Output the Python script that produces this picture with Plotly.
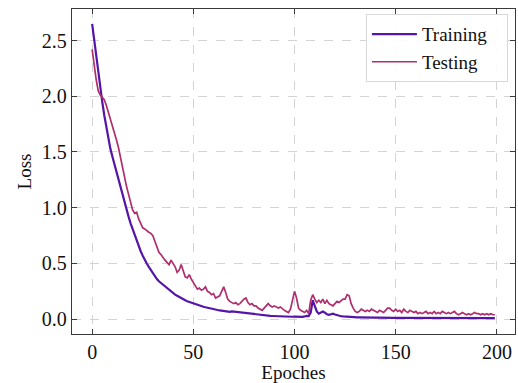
import plotly.graph_objects as go

epochs = list(range(200))

training_loss = [
    2.65, 2.50, 2.36, 2.22, 2.08, 1.95, 1.83, 1.72, 1.62, 1.53,
    1.46, 1.39, 1.32, 1.25, 1.18, 1.11, 1.05, 0.99, 0.92, 0.86,
    0.81, 0.75, 0.70, 0.65, 0.61, 0.57, 0.53, 0.50, 0.47, 0.44,
    0.41, 0.385, 0.36, 0.34, 0.325, 0.31, 0.29, 0.275, 0.26, 0.245,
    0.23, 0.22, 0.21, 0.198, 0.188, 0.178, 0.17, 0.162, 0.155, 0.147,
    0.14, 0.134, 0.128, 0.122, 0.117, 0.112, 0.107, 0.102, 0.098, 0.094,
    0.09, 0.086, 0.083, 0.08, 0.077, 0.074, 0.071, 0.068, 0.066, 0.07,
    0.068, 0.062, 0.058, 0.056, 0.053, 0.051, 0.049, 0.047, 0.045, 0.043,
    0.041, 0.039, 0.038, 0.036, 0.035, 0.033, 0.032, 0.031, 0.03, 0.029,
    0.028, 0.027, 0.026, 0.026, 0.025, 0.024, 0.024, 0.023, 0.023, 0.022,
    0.024, 0.022, 0.021, 0.023, 0.021, 0.025, 0.03, 0.028, 0.06, 0.17,
    0.11, 0.07, 0.05, 0.06, 0.07, 0.06, 0.045, 0.04, 0.045, 0.05,
    0.042, 0.035, 0.03, 0.027, 0.025, 0.023, 0.021, 0.02, 0.019, 0.018,
    0.017, 0.017, 0.017, 0.016, 0.016, 0.016, 0.016, 0.015, 0.015, 0.015,
    0.015, 0.015, 0.014, 0.014, 0.014, 0.014, 0.014, 0.014, 0.013, 0.013,
    0.013, 0.013, 0.013, 0.013, 0.013, 0.013, 0.012, 0.012, 0.012, 0.012,
    0.012, 0.012, 0.012, 0.012, 0.012, 0.012, 0.012, 0.011, 0.011, 0.011,
    0.011, 0.011, 0.011, 0.011, 0.011, 0.011, 0.011, 0.011, 0.011, 0.011,
    0.011, 0.011, 0.01, 0.01, 0.01, 0.01, 0.01, 0.01, 0.01, 0.01,
    0.01, 0.01, 0.01, 0.01, 0.01, 0.01, 0.01, 0.01, 0.01, 0.01,
]

testing_loss = [
    2.42, 2.27, 2.15, 2.05, 2.01, 1.99, 1.97, 1.92, 1.86, 1.80,
    1.75, 1.68, 1.61, 1.54, 1.45, 1.35, 1.26, 1.19, 1.12, 1.04,
    0.98, 0.95, 0.96, 0.90, 0.86, 0.82, 0.81, 0.79, 0.78, 0.77,
    0.75, 0.70, 0.64, 0.60, 0.58, 0.55, 0.53, 0.51, 0.49, 0.53,
    0.50, 0.47, 0.42, 0.44, 0.49, 0.43, 0.38, 0.37, 0.40, 0.36,
    0.33, 0.30, 0.27, 0.28, 0.26, 0.27, 0.29, 0.25, 0.24, 0.22,
    0.23, 0.19, 0.20, 0.21, 0.25, 0.29, 0.24, 0.18, 0.16, 0.15,
    0.14, 0.15, 0.13, 0.14, 0.16, 0.18, 0.19, 0.15, 0.13, 0.14,
    0.12, 0.12, 0.10, 0.09, 0.08, 0.10, 0.12, 0.14, 0.12, 0.11,
    0.12, 0.11, 0.10, 0.11, 0.09, 0.08, 0.07, 0.06, 0.09, 0.18,
    0.25, 0.19, 0.10, 0.08, 0.07, 0.06, 0.08, 0.05, 0.17, 0.22,
    0.18, 0.15, 0.17, 0.15, 0.18, 0.14, 0.17, 0.14, 0.13, 0.12,
    0.14, 0.16, 0.15, 0.17, 0.18, 0.18, 0.22, 0.21, 0.14, 0.10,
    0.07, 0.06, 0.07, 0.09, 0.08, 0.07, 0.08, 0.07, 0.09, 0.08,
    0.07, 0.06, 0.08, 0.07, 0.06, 0.08, 0.10, 0.10, 0.08, 0.07,
    0.09, 0.07, 0.08, 0.06, 0.09, 0.07, 0.06, 0.08, 0.07, 0.06,
    0.07, 0.05, 0.06, 0.05, 0.06, 0.07, 0.05, 0.06, 0.05, 0.07,
    0.05, 0.06, 0.05, 0.07, 0.06, 0.05, 0.06, 0.05, 0.06, 0.07,
    0.05, 0.04, 0.05, 0.06, 0.05, 0.04, 0.05, 0.04, 0.05, 0.06,
    0.05, 0.05, 0.04, 0.05, 0.04, 0.05, 0.04, 0.05, 0.04, 0.04,
]

x_ticks = [0, 50, 100, 150, 200]
y_ticks = [0.0, 0.5, 1.0, 1.5, 2.0, 2.5]
y_tick_labels = ["0.0", "0.5", "1.0", "1.5", "2.0", "2.5"]
series_names = ["Training", "Testing"]

FONT = "Liberation Serif, Times New Roman, serif"
PAD = "\u00a0\u00a0\u00a0"

fig = go.Figure()
fig.add_trace(go.Scatter(x=epochs, y=training_loss, mode="lines", name=series_names[0] + PAD,
                         legendgroup="a",
                         line=dict(color="#5515a8", width=2.2)))
fig.add_trace(go.Scatter(x=epochs, y=testing_loss, mode="lines", name=series_names[1] + PAD,
                         legendgroup="b",
                         line=dict(color="#b02e6e", width=1.7)))

axis_common = dict(
    showline=True, mirror="allticks", linecolor="#3a3a3a", linewidth=1.3,
    ticks="inside", ticklen=5, tickwidth=1, tickcolor="#3a3a3a",
    showgrid=True, gridcolor="#d4d4d4", griddash="dash", gridwidth=1,
    zeroline=False, tickfont=dict(family=FONT, size=20, color="#111"),
    automargin=False,
)

fig.update_xaxes(range=[-9.95, 208.95], tickvals=x_ticks,
                 title=dict(text="Epoches", font=dict(family=FONT, size=19, color="#111"), standoff=2),
                 **axis_common)
fig.update_yaxes(range=[-0.1325, 2.7825], tickvals=y_ticks, ticktext=y_tick_labels,
                 title=dict(text="Loss", font=dict(family=FONT, size=19, color="#111"), standoff=5),
                 **axis_common)

fig.update_layout(
    width=518, height=383,
    margin=dict(l=72, r=3, t=9, b=49),
    plot_bgcolor="white", paper_bgcolor="white",
    font=dict(family=FONT),
    showlegend=True,
    legend=dict(x=0.984, y=0.984, xanchor="right", yanchor="top",
                bgcolor="rgba(255,255,255,0.9)", bordercolor="#d8d8d8", borderwidth=1,
                font=dict(family=FONT, size=19, color="#111"),
                itemwidth=45, tracegroupgap=0),
)

fig.write_html("out.html", config={"displayModeBar": False},
               post_script="document.body.style.margin='0';")
